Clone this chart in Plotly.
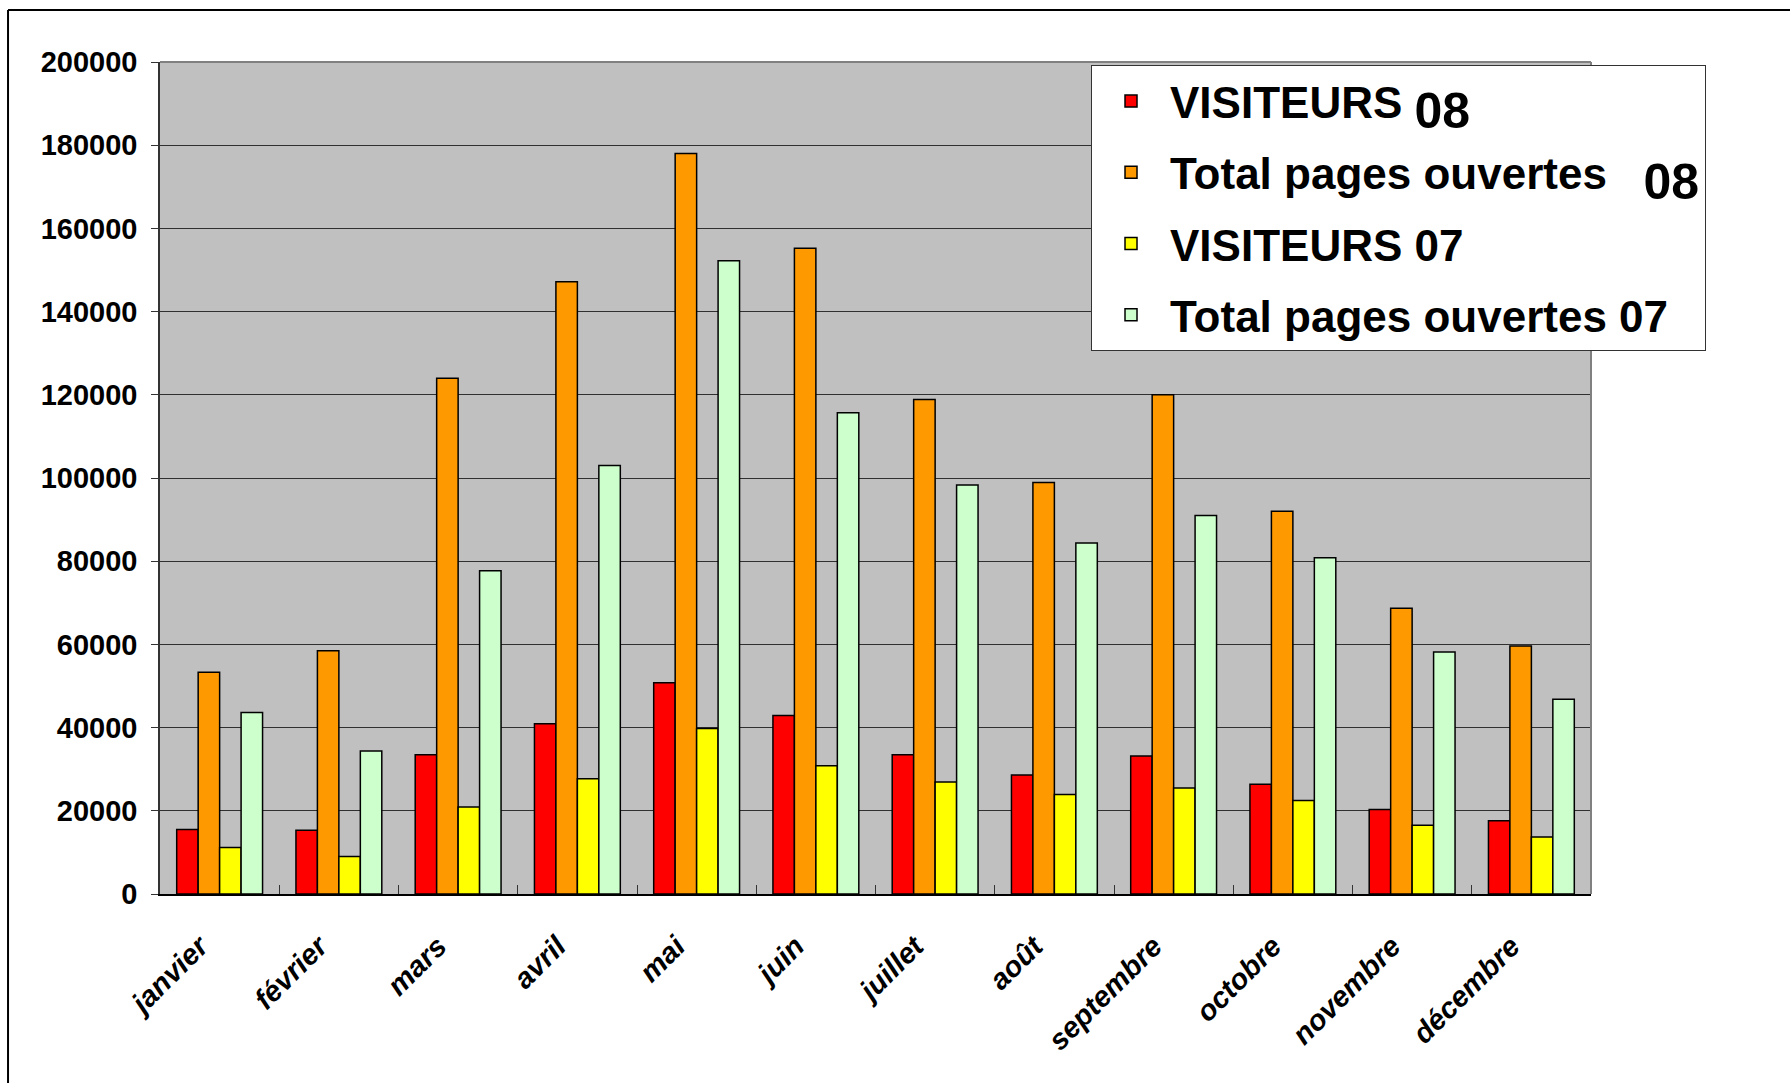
import plotly.graph_objects as go

months = ["janvier", "février", "mars", "avril", "mai", "juin", "juillet",
          "août", "septembre", "octobre", "novembre", "décembre"]

visiteurs_08 = [15500, 15300, 33500, 40900, 50800, 42900, 33500, 28600, 33200, 26400, 20300, 17600]
pages_08 = [53300, 58500, 124000, 147200, 178000, 155200, 118900, 98900, 120000, 92000, 68700, 59600]
visiteurs_07 = [11200, 9000, 20900, 27700, 39800, 30800, 26900, 23900, 25500, 22500, 16500, 13700]
pages_07 = [43600, 34400, 77700, 103000, 152200, 115700, 98300, 84400, 91000, 80800, 58200, 46800]

series_names = [
    'VISITEURS\u00a0<sub><span style="font-size:50px">08</span></sub>',
    'Total pages ouvertes\u00a0\u00a0\u00a0<sub><span style="font-size:50px">08</span></sub>',
    'VISITEURS 07',
    'Total pages ouvertes 07',
]
series_values = [visiteurs_08, pages_08, visiteurs_07, pages_07]
series_colors = ["#FF0000", "#FF9900", "#FFFF00", "#CCFFCC"]

y_ticks = list(range(0, 200001, 20000))

FONT = "Arial, 'Liberation Sans', sans-serif"

fig = go.Figure()
for i, (name, vals, col) in enumerate(zip(series_names, series_values, series_colors)):
    fig.add_trace(go.Bar(
        x=months, y=vals, name=name,
        marker=dict(color=col, line=dict(color="black", width=1.5)),
        legendgroup=f"g{i}",
    ))

fig.update_layout(
    width=1790, height=1083,
    margin=dict(l=160, r=199, t=62, b=189, autoexpand=False),
    paper_bgcolor="white",
    plot_bgcolor="#C0C0C0",
    barmode="group",
    bargap=0.28,
    bargroupgap=0,
    font=dict(family=FONT, color="black"),
    showlegend=True,
    legend=dict(
        x=0.6506, y=0.9964, xanchor="left", yanchor="top",
        bgcolor="white", bordercolor="#333333", borderwidth=1,
        font=dict(family=FONT, size=44, weight="bold", color="black"),
        tracegroupgap=11,
        itemwidth=68,
    ),
    xaxis=dict(
        tickangle=-45,
        tickfont=dict(family=FONT, size=29, weight="bold", style="italic", color="black"),
        showline=True, linecolor="black", linewidth=1.5,
        ticks="inside", tickson="boundaries", ticklen=9, tickcolor="#333333",
        showgrid=False,
        ticklabelstandoff=22,
        ticklabelshift=-20,
    ),
    yaxis=dict(
        range=[0, 200000],
        tickvals=y_ticks,
        tickformat="d",
        tickfont=dict(family=FONT, size=29, weight="bold", color="black"),
        showline=True, linecolor="#333333", linewidth=1.5,
        ticks="outside", ticklen=7, tickcolor="#333333",
        showgrid=True, gridcolor="#303030", gridwidth=1,
        zeroline=False,
        ticklabelstandoff=8,
    ),
    shapes=[
        dict(type="line", xref="paper", yref="paper", x0=0, x1=1, y0=1, y1=1,
             line=dict(color="#808080", width=2)),
        dict(type="line", xref="paper", yref="paper", x0=1, x1=1, y0=0, y1=1,
             line=dict(color="#808080", width=2)),
        # outer chart frame (top and left edges)
        dict(type="line", xref="paper", yref="paper", x0=-0.1062, x1=1.2, y0=1.0625, y1=1.0625,
             line=dict(color="black", width=2)),
        dict(type="line", xref="paper", yref="paper", x0=-0.1062, x1=-0.1062, y0=1.0625, y1=-0.3,
             line=dict(color="black", width=2)),
    ],
)

fig.write_html(
    "out.html",
    config={"displayModeBar": False},
    post_script="document.body.style.margin='0';document.body.style.overflow='hidden';",
)
